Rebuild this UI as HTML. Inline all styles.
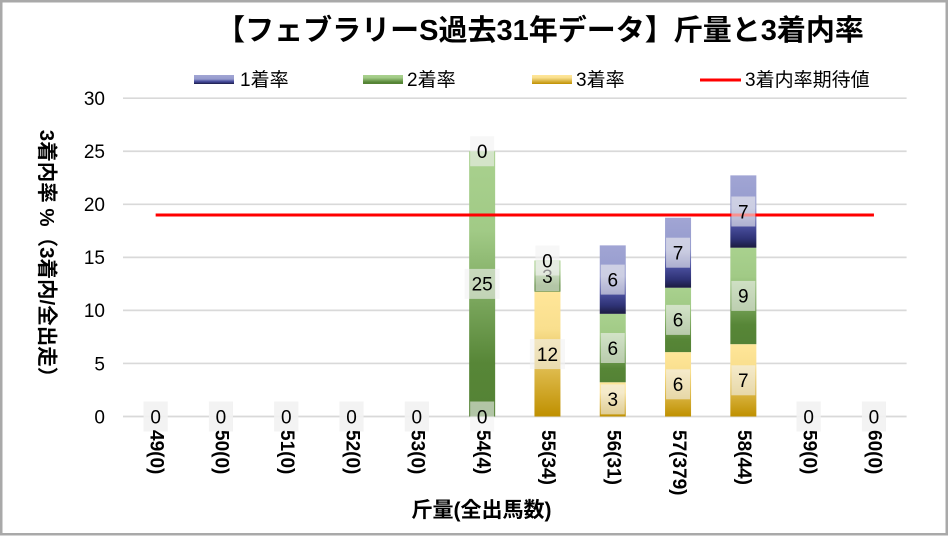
<!DOCTYPE html>
<html><head><meta charset="utf-8"><style>
html,body{margin:0;padding:0;background:#fff;}
svg{display:block;}
text{font-family:"Liberation Sans","Noto Sans CJK JP",sans-serif;}
</style></head><body>
<svg width="949" height="536" viewBox="0 0 949 536" xmlns="http://www.w3.org/2000/svg">
<defs>
<linearGradient id="g1" x1="0" y1="0" x2="0" y2="1">
<stop offset="0" stop-color="#a1a5d4"/><stop offset="0.45" stop-color="#959bcd"/><stop offset="0.7" stop-color="#4b509f"/><stop offset="0.88" stop-color="#2e3275"/><stop offset="1" stop-color="#1b1b3f"/>
</linearGradient>
<linearGradient id="g2" x1="0" y1="0" x2="0" y2="1">
<stop offset="0" stop-color="#a9d18e"/><stop offset="0.3" stop-color="#a1ca86"/><stop offset="0.8" stop-color="#578637"/><stop offset="1" stop-color="#548235"/>
</linearGradient>
<linearGradient id="g3" x1="0" y1="0" x2="0" y2="1">
<stop offset="0" stop-color="#ffe699"/><stop offset="0.3" stop-color="#f9df8e"/><stop offset="1" stop-color="#bf9000"/>
</linearGradient>
</defs>
<rect x="0" y="0" width="949" height="536" fill="#fff"/>
<rect x="1.25" y="1.25" width="945.5" height="533" fill="none" stroke="#a9a9a9" stroke-width="2.5"/>

<!-- title -->
<text x="540" y="40" font-size="29" font-weight="bold" text-anchor="middle" fill="#000">【フェブラリーS過去31年データ】斤量と3着内率</text>

<!-- legend -->
<rect x="194" y="75" width="40" height="9" fill="url(#g1)"/>
<text x="240" y="86" font-size="19" fill="#000">1着率</text>
<rect x="363" y="75" width="40" height="9" fill="url(#g2)"/>
<text x="407" y="86" font-size="19" fill="#000">2着率</text>
<rect x="532" y="75" width="40" height="9" fill="url(#g3)"/>
<text x="576" y="86" font-size="19" fill="#000">3着率</text>
<line x1="700" y1="80" x2="741" y2="80" stroke="#ff0000" stroke-width="3"/>
<text x="745" y="86" font-size="19" fill="#000">3着内率期待値</text>

<!-- gridlines -->
<g stroke="#d9d9d9" stroke-width="1.7">
<line x1="123" y1="98.2" x2="906.6" y2="98.2"/>
<line x1="123" y1="151.25" x2="906.6" y2="151.25"/>
<line x1="123" y1="204.3" x2="906.6" y2="204.3"/>
<line x1="123" y1="257.35" x2="906.6" y2="257.35"/>
<line x1="123" y1="310.4" x2="906.6" y2="310.4"/>
<line x1="123" y1="363.45" x2="906.6" y2="363.45"/>
<line x1="123" y1="416.5" x2="906.6" y2="416.5"/>
</g>

<!-- y ticks -->
<g font-size="19" text-anchor="end" fill="#000">
<text x="105" y="105">30</text>
<text x="105" y="158">25</text>
<text x="105" y="211.1">20</text>
<text x="105" y="264.2">15</text>
<text x="105" y="317.2">10</text>
<text x="105" y="370.3">5</text>
<text x="105" y="423.3">0</text>
</g>

<!-- y axis title -->
<text transform="translate(40,258.5) rotate(90)" font-size="20.5" font-weight="bold" text-anchor="middle" fill="#000">3着内率 %（3着内/全出走）</text>

<!-- bars -->
<rect x="469.15" y="151.25" width="26" height="265.25" fill="url(#g2)"/>

<rect x="534.45" y="291.67" width="26" height="124.83" fill="url(#g3)"/>
<rect x="534.45" y="260.47" width="26" height="31.2" fill="url(#g2)"/>

<rect x="599.75" y="382.27" width="26" height="34.23" fill="url(#g3)"/>
<rect x="599.75" y="313.83" width="26" height="68.44" fill="url(#g2)"/>
<rect x="599.75" y="245.37" width="26" height="68.46" fill="url(#g1)"/>

<rect x="665.05" y="352.11" width="26" height="64.39" fill="url(#g3)"/>
<rect x="665.05" y="287.73" width="26" height="64.38" fill="url(#g2)"/>
<rect x="665.05" y="217.73" width="26" height="70.0" fill="url(#g1)"/>

<rect x="730.35" y="344.16" width="26" height="72.34" fill="url(#g3)"/>
<rect x="730.35" y="247.71" width="26" height="96.45" fill="url(#g2)"/>
<rect x="730.35" y="175.36" width="26" height="72.35" fill="url(#g1)"/>

<!-- expected line -->
<line x1="155.65" y1="215" x2="873.95" y2="215" stroke="#ff0000" stroke-width="3"/>

<!-- data labels -->
<g font-size="19" text-anchor="middle" fill="#000">
<g fill="rgba(242,242,242,0.6)">
<rect x="143.65" y="401.5" width="24" height="30"/><rect x="143.65" y="401.5" width="24" height="30"/><rect x="143.65" y="401.5" width="24" height="30"/>
<rect x="208.95" y="401.5" width="24" height="30"/><rect x="208.95" y="401.5" width="24" height="30"/><rect x="208.95" y="401.5" width="24" height="30"/>
<rect x="274.25" y="401.5" width="24" height="30"/><rect x="274.25" y="401.5" width="24" height="30"/><rect x="274.25" y="401.5" width="24" height="30"/>
<rect x="339.55" y="401.5" width="24" height="30"/><rect x="339.55" y="401.5" width="24" height="30"/><rect x="339.55" y="401.5" width="24" height="30"/>
<rect x="404.85" y="401.5" width="24" height="30"/><rect x="404.85" y="401.5" width="24" height="30"/><rect x="404.85" y="401.5" width="24" height="30"/>
<rect x="796.65" y="401.5" width="24" height="30"/><rect x="796.65" y="401.5" width="24" height="30"/><rect x="796.65" y="401.5" width="24" height="30"/>
<rect x="861.95" y="401.5" width="24" height="30"/><rect x="861.95" y="401.5" width="24" height="30"/><rect x="861.95" y="401.5" width="24" height="30"/>
</g>
<text x="155.65" y="423.3">0</text>
<text x="220.95" y="423.3">0</text>
<text x="286.25" y="423.3">0</text>
<text x="351.55" y="423.3">0</text>
<text x="416.85" y="423.3">0</text>
<text x="808.65" y="423.3">0</text>
<text x="873.95" y="423.3">0</text>

<!-- 3着 series labels -->
<rect x="470.15" y="401.5" width="24" height="30" fill="rgba(242,242,242,0.6)"/>
<text x="482.15" y="423.3">0</text>
<rect x="529.95" y="339.1" width="35" height="30" fill="rgba(242,242,242,0.6)"/>
<text x="547.45" y="360.9">12</text>
<rect x="600.75" y="384.4" width="24" height="30" fill="rgba(242,242,242,0.6)"/>
<text x="612.75" y="406.2">3</text>
<rect x="666.05" y="369.3" width="24" height="30" fill="rgba(242,242,242,0.6)"/>
<text x="678.05" y="391.1">6</text>
<rect x="731.35" y="365.3" width="24" height="30" fill="rgba(242,242,242,0.6)"/>
<text x="743.35" y="387.1">7</text>

<!-- 2着 series labels -->
<rect x="464.65" y="268.9" width="35" height="30" fill="rgba(242,242,242,0.6)"/>
<text x="482.15" y="290.7">25</text>
<rect x="535.45" y="261.1" width="24" height="30" fill="rgba(242,242,242,0.6)"/>
<text x="547.45" y="282.9">3</text>
<rect x="600.75" y="333" width="24" height="30" fill="rgba(242,242,242,0.6)"/>
<text x="612.75" y="354.8">6</text>
<rect x="666.05" y="304.9" width="24" height="30" fill="rgba(242,242,242,0.6)"/>
<text x="678.05" y="326.7">6</text>
<rect x="731.35" y="280.9" width="24" height="30" fill="rgba(242,242,242,0.6)"/>
<text x="743.35" y="302.7">9</text>

<!-- 1着 series labels -->
<rect x="470.15" y="136.25" width="24" height="30" fill="rgba(242,242,242,0.6)"/>
<text x="482.15" y="158.05">0</text>
<rect x="535.45" y="245.5" width="24" height="30" fill="rgba(242,242,242,0.6)"/>
<text x="547.45" y="267.3">0</text>
<rect x="600.75" y="264.6" width="24" height="30" fill="rgba(242,242,242,0.6)"/>
<text x="612.75" y="286.4">6</text>
<rect x="666.05" y="237.7" width="24" height="30" fill="rgba(242,242,242,0.6)"/>
<text x="678.05" y="259.5">7</text>
<rect x="731.35" y="196.5" width="24" height="30" fill="rgba(242,242,242,0.6)"/>
<text x="743.35" y="218.3">7</text>
</g>

<!-- x labels -->
<g font-size="19" font-weight="bold" fill="#000">
<text transform="translate(150.4,430) rotate(90)">49(0)</text>
<text transform="translate(215.7,430) rotate(90)">50(0)</text>
<text transform="translate(281.0,430) rotate(90)">51(0)</text>
<text transform="translate(346.3,430) rotate(90)">52(0)</text>
<text transform="translate(411.6,430) rotate(90)">53(0)</text>
<text transform="translate(476.9,430) rotate(90)">54(4)</text>
<text transform="translate(542.2,430) rotate(90)">55(34)</text>
<text transform="translate(607.5,430) rotate(90)">56(31)</text>
<text transform="translate(672.8,430) rotate(90)">57(379)</text>
<text transform="translate(738.1,430) rotate(90)">58(44)</text>
<text transform="translate(803.4,430) rotate(90)">59(0)</text>
<text transform="translate(868.7,430) rotate(90)">60(0)</text>
</g>

<!-- x axis title -->
<text x="481.5" y="517" font-size="21" font-weight="bold" text-anchor="middle" fill="#000">斤量(全出馬数)</text>
</svg>
</body></html>
